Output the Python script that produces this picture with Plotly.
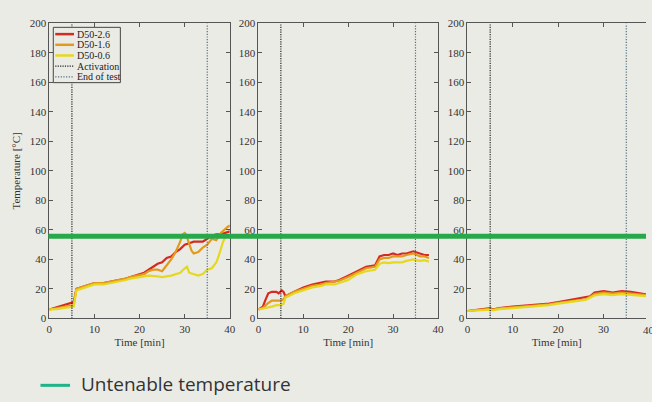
import plotly.graph_objects as go

W, H = 652, 402
BG = "#ebebe6"

# ---------------- data ----------------
series_names = ["D50-2.6", "D50-1.6", "D50-0.6"]
series_colors = ["#d42a20", "#e39a1c", "#e6d81e"]

# Panel 1
p1_red_t = [0, 1, 2, 3, 4, 5, 5.4, 6, 8, 10, 12, 14, 16, 17, 18, 20, 21, 22, 23, 24, 25, 26, 27, 28, 29, 30, 31, 32, 33, 34, 35, 36, 37, 38, 39, 40]
p1_red_v = [6, 7, 8, 9, 10, 11, 11, 20, 22, 24, 24, 25, 26, 27, 28, 30, 31, 33, 35, 37, 38, 41, 42, 45, 47, 50, 51, 52, 52, 52, 54, 56, 57, 57, 58, 59]
p1_org_t = [0, 1, 2, 3, 4, 5, 5.4, 6, 8, 10, 12, 14, 16, 17, 18, 20, 21, 22, 23, 24, 25, 25.5, 26, 27, 28, 28.5, 29, 29.5, 30, 30.3, 31, 31.5, 32, 33, 34, 35, 36, 37, 38, 39, 39.5, 40]
p1_org_v = [6, 6.5, 7, 7.5, 8, 9, 9, 20, 22, 24, 24, 25, 26, 27, 28, 29, 30, 32, 33, 33, 32, 34, 36, 40, 45, 48, 52, 57, 58, 57, 50, 46, 44, 45, 48, 50, 54, 53, 58, 61, 62, 63]
p1_yel_t = [0, 1, 2, 3, 4, 5, 5.4, 6, 8, 10, 12, 14, 16, 17, 18, 20, 22, 24, 25, 27, 29, 30, 30.5, 31, 32, 33, 34, 35, 36, 36.5, 37, 37.5, 38, 38.5, 39, 40]
p1_yel_v = [6, 6, 6.5, 7, 7.5, 8, 8, 19, 21, 23, 23, 24, 25, 26, 27, 28, 29, 28.5, 28, 29, 31, 34, 35, 31, 30, 29, 30, 33, 34, 36, 38, 42, 47, 52, 55, 56]

# Panel 2
p2_red_t = [0, 1, 1.5, 2.2, 3, 4, 4.5, 5.2, 5.6, 6, 8, 10, 12, 14, 15, 17, 18, 20, 22, 24, 26, 27, 28, 29, 30, 31, 32, 33, 34.5, 35, 36, 37, 38]
p2_red_v = [6, 8, 12, 17, 18, 18, 17, 19, 18, 15, 18, 21, 23, 24, 25, 25, 26, 29, 32, 35, 36, 42, 43, 43, 44, 43, 44, 44, 45.5, 45, 44, 43, 43]
p2_org_t = [0, 1, 2, 3, 4, 5, 5.6, 6, 8, 10, 12, 14, 15, 17, 18, 20, 22, 24, 26, 27, 28, 29, 30, 32, 33, 34.5, 35, 36, 37, 38]
p2_org_v = [6, 7, 10, 12, 12, 12, 13, 15, 18, 20, 22, 23, 24, 25, 25.5, 28, 31, 34, 35, 40, 41, 41, 42, 42, 43, 44, 43.5, 42, 42, 41]
p2_yel_t = [0, 1, 2, 3, 4, 5, 5.6, 6, 8, 10, 12, 14, 15, 17, 18, 20, 22, 24, 26, 27, 28, 29, 30, 32, 33, 34.5, 35, 36, 37, 38]
p2_yel_v = [6, 6.5, 7, 8, 9, 9, 10, 14, 17, 19, 21, 22, 23, 23, 24, 26, 30, 32, 33, 37, 38, 37.5, 38, 38, 39, 40, 39.5, 39, 39.5, 38.5]

# Panel 3
p3_red_t = [0, 3, 5, 5.5, 7, 10, 15, 18, 20, 24, 26, 27, 28, 30, 32, 34, 36, 38, 40]
p3_red_v = [5, 6, 7, 6, 7, 8, 9, 10, 11, 13, 14, 15, 17.5, 18.5, 17.5, 18.5, 18, 17, 16]
p3_org_t = [0, 3, 5, 5.5, 7, 10, 15, 18, 20, 24, 26, 27, 28, 30, 32, 34, 36, 38, 40]
p3_org_v = [5, 6, 6.5, 5.8, 6.8, 7.5, 8.5, 9.5, 10.5, 12, 13, 14.5, 16.5, 17.5, 16.8, 17.5, 17, 16.5, 15.5]
p3_yel_t = [0, 3, 5, 5.5, 7, 10, 15, 18, 20, 24, 26, 27, 28, 30, 32, 34, 36, 38, 40]
p3_yel_v = [5, 5.5, 6, 5.5, 6.3, 7, 8, 9, 10, 11.5, 12.5, 14, 15.5, 16.5, 15.8, 16.5, 16, 15.5, 15]

activation_time = 5
end_time = 35
untenable_temp = 55.7

x_ticks = [0, 10, 20, 30, 40]
y_ticks = [0, 20, 40, 60, 80, 100, 120, 140, 160, 180, 200]

panels = [
    [(p1_red_t, p1_red_v), (p1_org_t, p1_org_v), (p1_yel_t, p1_yel_v)],
    [(p2_red_t, p2_red_v), (p2_org_t, p2_org_v), (p2_yel_t, p2_yel_v)],
    [(p3_red_t, p3_red_v), (p3_org_t, p3_org_v), (p3_yel_t, p3_yel_v)],
]

# ---------------- layout helpers ----------------
def px(x):
    return x / W

def py(y):
    return 1 - y / H

x_domains = [(47, 230), (259, 441), (471, 652)]
x_ranges = [[0, 40], [0, 40], [0, 40 * (652 - 471) / 184]]
y_dom = [py(322), py(18)]

SERIF = "Liberation Serif, Times New Roman, serif"
AXC = "#555555"
ACT_DASH = "1.2px,1.2px"
END_DASH = "1.2px,1.5px"

fig = go.Figure()

for i, panel in enumerate(panels):
    xa = "x" if i == 0 else f"x{i+1}"
    ya = "y" if i == 0 else f"y{i+1}"
    for (t, v), name, col in zip(panel, series_names, series_colors):
        fig.add_trace(go.Scatter(x=t, y=v, mode="lines", name=name,
                                 line=dict(color=col, width=2.2),
                                 xaxis=xa, yaxis=ya, showlegend=False))
    fig.add_trace(go.Scatter(x=[activation_time, activation_time], y=[0, 200], mode="lines",
                             line=dict(color="#222222", width=1.2, dash=ACT_DASH),
                             xaxis=xa, yaxis=ya, showlegend=False))
    fig.add_trace(go.Scatter(x=[end_time, end_time], y=[0, 200], mode="lines",
                             line=dict(color="#4f6f86", width=1.2, dash=END_DASH),
                             xaxis=xa, yaxis=ya, showlegend=False))

layout = dict(
    width=W, height=H,
    margin=dict(l=0, r=0, t=0, b=0),
    paper_bgcolor=BG, plot_bgcolor=BG,
    showlegend=False,
    font=dict(family=SERIF, size=11, color="#333333"),
)

for i in range(3):
    xkey = "xaxis" if i == 0 else f"xaxis{i+1}"
    ykey = "yaxis" if i == 0 else f"yaxis{i+1}"
    yanchor = "y" if i == 0 else f"y{i+1}"
    xanchor = "x" if i == 0 else f"x{i+1}"
    layout[xkey] = dict(
        domain=[px(x_domains[i][0]), px(x_domains[i][1])],
        range=x_ranges[i], anchor=yanchor,
        tickvals=x_ticks, ticks="inside", ticklen=4, tickcolor=AXC,
        showline=True, linecolor=AXC, linewidth=1, mirror="ticks",
        showgrid=False, zeroline=False,
        tickfont=dict(family=SERIF, size=11, color="#333333"),
        title=dict(text="Time [min]", font=dict(family=SERIF, size=11, color="#333333"), standoff=4),
    )
    layout[ykey] = dict(
        domain=y_dom, range=[0, 200], anchor=xanchor,
        tickvals=y_ticks, ticks="inside", ticklen=4, tickcolor=AXC,
        showline=True, linecolor=AXC, linewidth=1,
        mirror=("ticks" if i < 2 else False),
        showgrid=False, zeroline=False,
        tickfont=dict(family=SERIF, size=11, color="#333333"),
    )
layout["yaxis"]["title"] = dict(text="Temperature [°C]", font=dict(family=SERIF, size=11, color="#333333"), standoff=6)

fig.update_layout(**layout)

shapes = []
annotations = []

# untenable temperature line across all panels
shapes.append(dict(type="line", xref="paper", yref="y", x0=px(46), x1=1.0,
                   y0=untenable_temp, y1=untenable_temp,
                   line=dict(color="#27a84a", width=5)))

# in-plot legend (panel 1)
shapes.append(dict(type="rect", xref="paper", yref="paper",
                   x0=px(51), x1=px(119), y0=py(79), y1=py(22),
                   line=dict(color="#444444", width=1), fillcolor=BG))
leg_items = [
    ("D50-2.6", series_colors[0], 2.5, "solid"),
    ("D50-1.6", series_colors[1], 2.5, "solid"),
    ("D50-0.6", series_colors[2], 2.5, "solid"),
    ("Activation", "#222222", 1.2, ACT_DASH),
    ("End of test", "#4f6f86", 1.2, END_DASH),
]
for k, (lab, col, w, dash) in enumerate(leg_items):
    yy = 29 + k * 11
    shapes.append(dict(type="line", xref="paper", yref="paper",
                       x0=px(53), x1=px(72), y0=py(yy), y1=py(yy),
                       line=dict(color=col, width=w, dash=dash)))
    annotations.append(dict(xref="paper", yref="paper", x=px(73.5), y=py(yy),
                            text=lab, showarrow=False, xanchor="left", yanchor="middle",
                            font=dict(family=SERIF, size=10, color="#222222")))

# cut-off "40" label on panel 3 (the reference is cropped at the right edge)
annotations.append(dict(xref="paper", yref="paper", x=px(655), y=py(326), text="40",
                        showarrow=False, xanchor="center", yanchor="top",
                        font=dict(family=SERIF, size=11, color="#333333")))

# bottom legend
shapes.append(dict(type="line", xref="paper", yref="paper",
                   x0=px(38), x1=px(68), y0=py(391), y1=py(391),
                   line=dict(color="#1fb389", width=3)))
annotations.append(dict(xref="paper", yref="paper", x=px(77), y=py(390),
                        text="Untenable temperature", showarrow=False,
                        xanchor="left", yanchor="middle",
                        font=dict(family="Open Sans, Noto Sans, sans-serif", size=19, color="#333333")))

fig.update_layout(shapes=shapes, annotations=annotations)

fig.write_html("out.html",
               config={"displayModeBar": False},
               post_script="document.body.style.margin='0';document.body.style.overflow='hidden';document.body.style.background='" + BG + "';")
